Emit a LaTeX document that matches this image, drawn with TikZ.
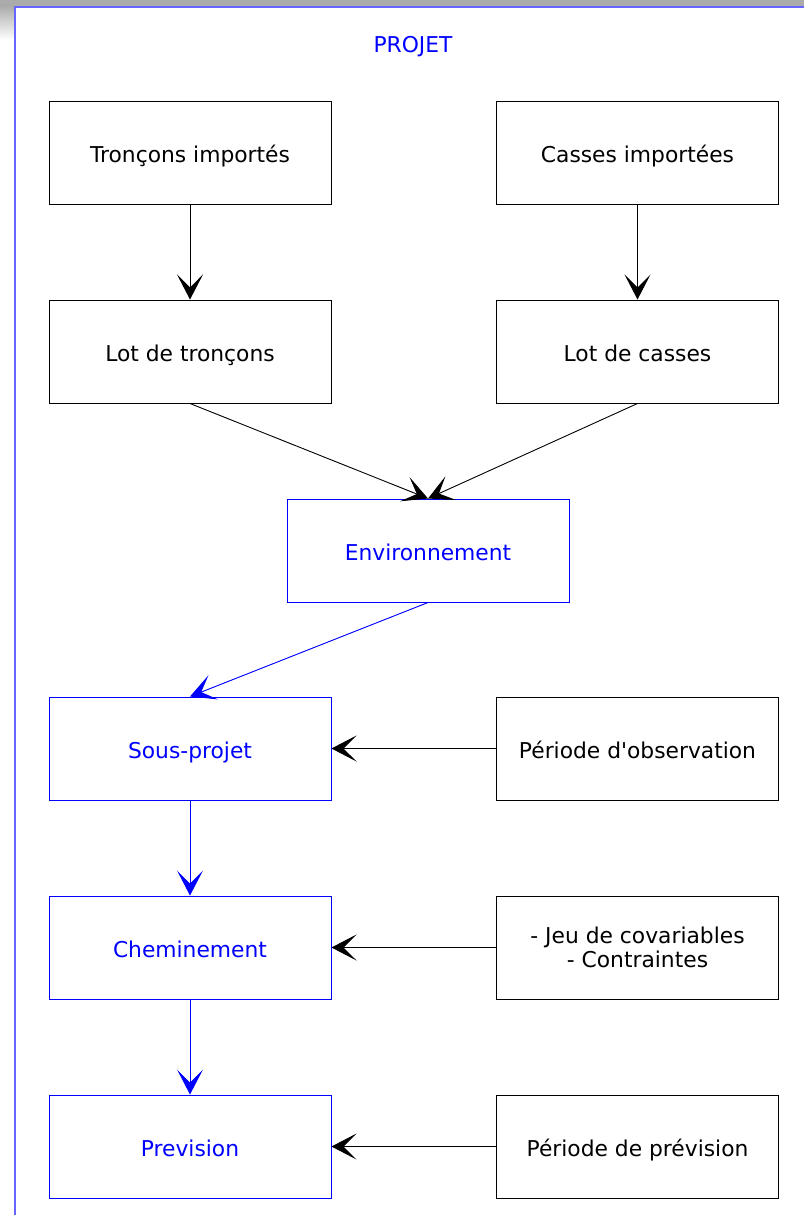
\documentclass[tikz,border=0pt]{standalone}
\usepackage{fontspec}
\setmainfont{DejaVu Sans}
\usetikzlibrary{arrows.meta}
\definecolor{frameblue}{RGB}{102,102,255}
\definecolor{bandgray}{RGB}{171,171,171}
\begin{document}
\begin{tikzpicture}[x=1pt,y=-1pt,
  plainbox/.style={draw=black,line width=1pt,minimum width=282pt,minimum height=103pt,
    inner sep=0pt,align=center,font=\fontsize{21.8}{24}\selectfont,text=black},
  box/.style={plainbox,text height=19pt,text depth=0pt},
  bluebox/.style={box,draw=blue,text=blue},
  arr/.style={-{Stealth[length=25pt,width=26pt,inset=13pt]},line width=0.9pt,draw=black},
  bluearr/.style={arr,draw=blue,fill=blue}
]
\useasboundingbox (0,0) rectangle (804,1215);
% window band and frame
\fill[bandgray] (0,0) rectangle (804,6);
\shade[top color=bandgray,bottom color=white] (0,6) rectangle (14,40);
\draw[frameblue,line width=2pt] (14.5,1215) -- (14.5,7) -- (804,7);

\node[text=blue,font=\fontsize{21.8}{24}\selectfont] (projet) at (413,47) {PROJET};

\node[box] (ti) at (190,152.5) {Tronçons importés};
\node[box] (ci) at (637.5,152.5) {Casses importées};
\node[box] (lt) at (190,351.5) {Lot de tronçons};
\node[box] (lc) at (637.5,351.5) {Lot de casses};
\node[bluebox] (env) at (428,550.5) {Environnement};
\node[bluebox] (sp) at (190,748.5) {Sous-projet};
\node[box] (po) at (637.5,748.5) {Période d\textquotesingle observation};
\node[bluebox] (ch) at (190,947.5) {Cheminement};
\node[plainbox] (jc) at (637.5,947.5) {- Jeu de covariables\\- Contraintes};
\node[bluebox] (pr) at (190,1146.5) {Prevision};
\node[box] (pp) at (637.5,1146.5) {Période de prévision};

\draw[arr] (ti.south) -- (lt.north);
\draw[arr] (ci.south) -- (lc.north);
\draw[arr] (lt.south) -- (env.north);
\draw[arr] (lc.south) -- (env.north);
\draw[bluearr] (env.south) -- (sp.north);
\draw[bluearr] (sp.south) -- (ch.north);
\draw[bluearr] (ch.south) -- (pr.north);
\draw[arr] (po.west) -- (sp.east);
\draw[arr] (jc.west) -- (ch.east);
\draw[arr] (pp.west) -- (pr.east);
\end{tikzpicture}
\end{document}
